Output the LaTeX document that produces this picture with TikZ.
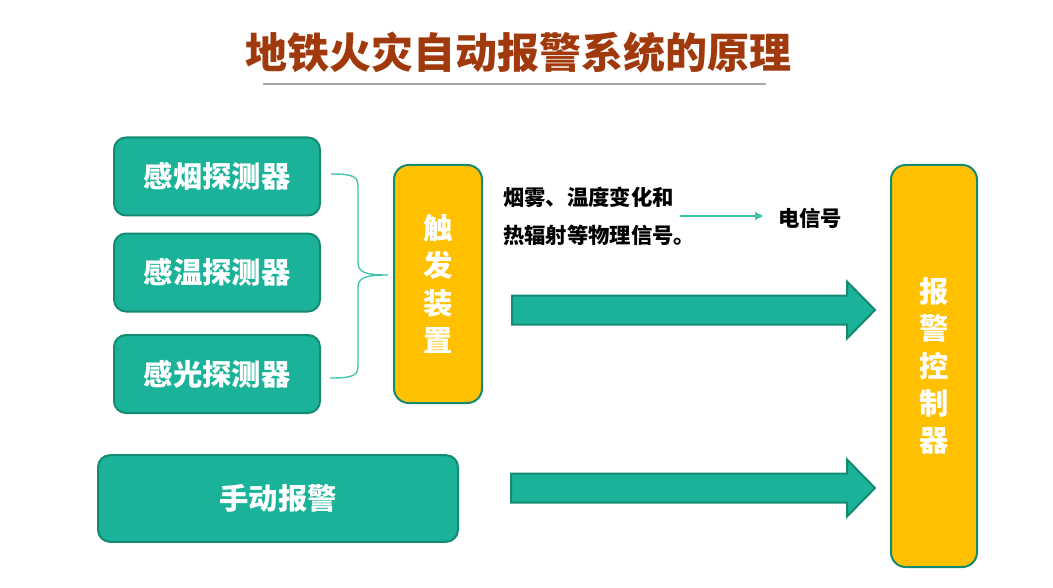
\documentclass[tikz,border=0pt]{standalone}
\usepackage{fontspec}
\setmainfont{Noto Sans CJK SC}
\usetikzlibrary{calc,arrows.meta}

\definecolor{tealfill}{HTML}{1AB39A}
\definecolor{tealdark}{HTML}{148A72}
\definecolor{tealline}{HTML}{3CC4A9}
\definecolor{goldfill}{HTML}{FFC000}
\definecolor{titlebrown}{HTML}{A03A0C}

\begin{document}
\begin{tikzpicture}[x=0.75pt,y=-0.75pt]
	% Stili per i riquadri e le frecce
	\tikzset{
		detbox/.style={rectangle, rounded corners=9pt, draw=tealdark, fill=tealfill, line width=1.5pt,
			text=white, font=\fontsize{22}{26}\selectfont\bfseries},
		tallbox/.style={rectangle, rounded corners=11pt, draw=tealdark, fill=goldfill, line width=1.5pt,
			text=white, align=center, font=\fontsize{22}{28}\selectfont\bfseries},
		fatarrow/.style={draw=tealdark, fill=tealfill, line width=1.5pt, line join=miter},
		thinarrow/.style={draw=tealline, line width=1pt, -{Triangle[length=6pt,width=6pt]}},
		brace/.style={draw=tealline, line width=1pt},
		note/.style={font=\fontsize{16}{28.5}\selectfont\bfseries, align=left, inner sep=0pt}
	}
	\useasboundingbox (0,0) rectangle (1053,588);

	% Titolo
	\node[font=\fontsize{31.5}{36}\selectfont\bfseries, text=titlebrown] (title) at (518,52) {地铁火灾自动报警系统的原理};
	\draw[gray!70, line width=1.5pt] (263,84) -- (766,84);

	% Rivelatori
	\node[detbox, minimum width=154.5pt, minimum height=58.5pt] (smoke) at (217,176.5) {感烟探测器};
	\node[detbox, minimum width=154.5pt, minimum height=58.5pt] (heat) at (217,272.5) {感温探测器};
	\node[detbox, minimum width=154.5pt, minimum height=58.5pt] (light) at (217,374) {感光探测器};
	\node[detbox, minimum width=270pt, minimum height=65pt] (manual) at (278,498.5) {手动报警};

	% Dispositivo di attivazione e centrale
	\node[tallbox, minimum width=66pt, minimum height=178.5pt] (trig) at (438,284) {触\\发\\装\\置};
	\node[tallbox, minimum width=64.5pt, minimum height=301.5pt] (alarm) at (934,366) {报\\警\\控\\制\\器};

	% Parentesi graffa
	\draw[brace] ($(smoke.east)+(10,-2.5)$) .. controls (352,174) and (358,176) .. (358,186) -- (358,262)
		.. controls (358,272) and (364,275) .. (388,275)
		.. controls (364,275) and (358,278) .. (358,288) -- (358,366)
		.. controls (358,376) and (352,378) .. (330,378);

	% Testo dei segnali
	\node[note, anchor=west] (phys) at (503,216) {烟雾、温度变化和\\热辐射等物理信号。};
	\node[note, anchor=west] (sig) at (778,218) {电信号};
	\coordinate (sigfrom) at (680,216);
	\draw[thinarrow] (sigfrom) -- ($(sig.west)+(-15,-2)$);

	% Frecce grandi
	\coordinate (a1s) at (512,310);
	\coordinate (a1e) at (875,310);
	\coordinate (a2s) at (511,488);
	\coordinate (a2e) at (875,488);
	\foreach \s/\e in {a1s/a1e, a2s/a2e}
		\draw[fatarrow] ($(\s)+(0,-14.5)$) -- ($(\e)+(-28,-14.5)$) -- ($(\e)+(-28,-28.5)$) -- (\e)
			-- ($(\e)+(-28,28.5)$) -- ($(\e)+(-28,14.5)$) -- ($(\s)+(0,14.5)$) -- cycle;
\end{tikzpicture}
\end{document}
